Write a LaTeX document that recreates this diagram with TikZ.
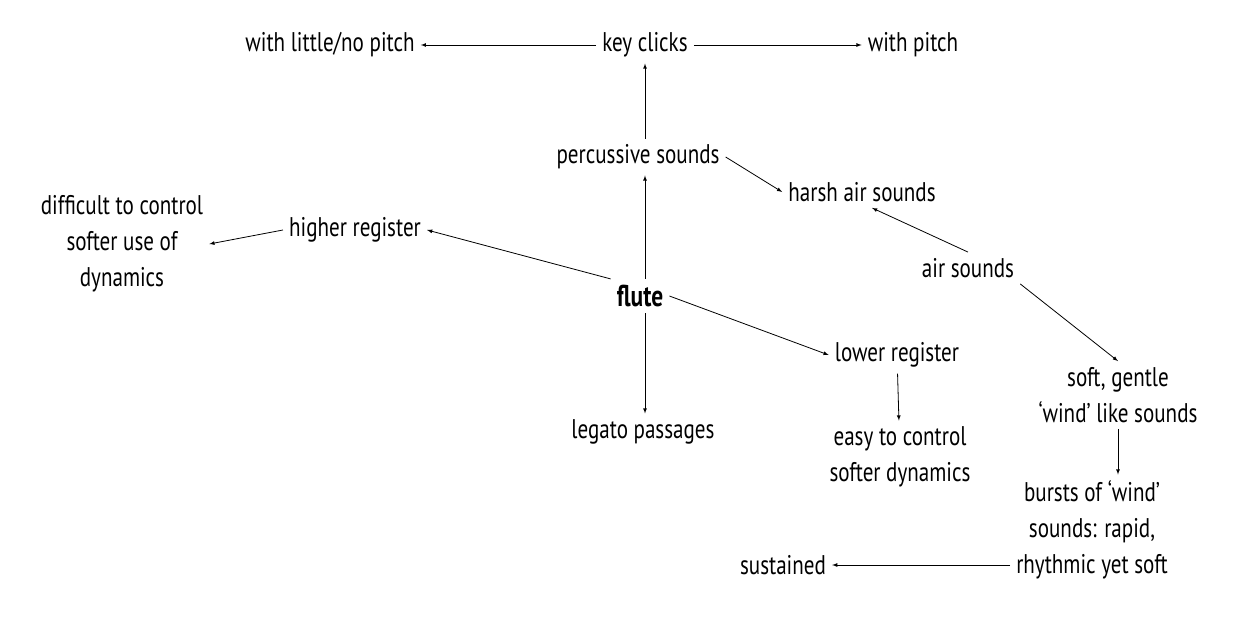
\documentclass[tikz,border=0pt]{standalone}
\usepackage{fontspec}
\setmainfont{PT Sans}[FakeStretch=0.78]
\usetikzlibrary{arrows}

\begin{document}
\begin{tikzpicture}[x=1pt,y=-1pt,font=\fontsize{27}{36}\selectfont,>=latex]
\tikzstyle{word}=[inner sep=6pt,align=center]
\tikzstyle{link}=[->,line width=0.8pt]

\useasboundingbox (0,0) rectangle (1254,624);

% centre
\node[word,font=\fontsize{30}{36}\selectfont\bfseries] (flute) at (640,296) {flute};

% upper branch
\node[word] (perc) at (638,157) {percussive sounds};
\node[word] (keys) at (645,45) {key clicks};
\node[word] (nopitch) at (330,45) {with little/no pitch};
\node[word] (pitch) at (913,45) {with pitch};
\node[word] (harsh) at (862,192) {harsh air sounds};

% left branch
\node[word] (high) at (355,230) {higher register};
\node[word] (hard) at (122,244) {difficult to control\\softer use of\\dynamics};

% lower branch
\node[word] (legato) at (643,432) {legato passages};
\node[word] (low) at (897,355) {lower register};
\node[word] (easy) at (900,457) {easy to control\\softer dynamics};

% air sounds
\node[word] (air) at (968,268) {air sounds};
\node[word] (soft) at (1118,395) {soft, gentle\\`wind' like sounds};
\node[word] (burst) at (1092,530) {bursts of `wind'\\sounds: rapid,\\rhythmic yet soft};
\node[word] (sust) at (783,565) {sustained};

\draw[link] (keys) -- (nopitch);
\draw[link] (keys) -- (pitch);
\draw[link] (perc.north -| keys) -- (keys);
\draw[link] (flute.north -| keys) -- (perc.south -| keys);
\draw[link] (perc.east) -- (harsh.west);
\draw[link] (air.north) -- ([xshift=10pt]harsh.south);
\draw[link] (flute.north west) -- (high.east);
\draw[link] (high.west) -- (hard.east);
\draw[link] (flute.east) -- (low.west);
\draw[link] (flute.south -| keys) -- (legato.north -| keys);
\draw[link] (low) -- (easy);
\draw[link] (air.south east) -- (soft.north);
\draw[link] (soft.south) -- (soft.south |- burst.north);
\draw[link] (burst.west |- sust) -- (sust.east);
\end{tikzpicture}
\end{document}
